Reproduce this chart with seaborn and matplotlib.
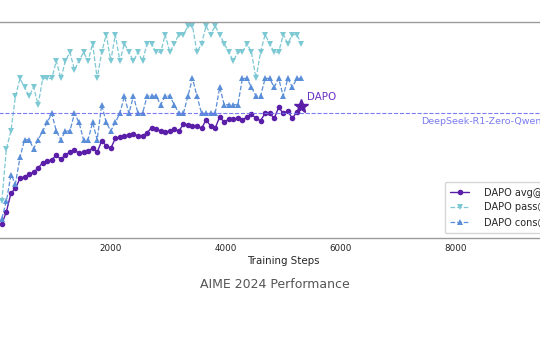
import matplotlib
matplotlib.use("Agg")
import matplotlib.pyplot as plt
import seaborn as sns

steps = [100, 179, 258, 337, 416, 495, 574, 653, 732, 811, 890, 969, 1048, 1127,
         1206, 1285, 1364, 1443, 1522, 1601, 1680, 1759, 1838, 1917, 1996, 2075,
         2154, 2233, 2312, 2391, 2470, 2549, 2628, 2707, 2786, 2865, 2944, 3023,
         3102, 3181, 3260, 3339, 3418, 3497, 3576, 3655, 3734, 3813, 3892, 3971,
         4050, 4129, 4208, 4287, 4366, 4445, 4524, 4603, 4682, 4761, 4840, 4919,
         4998, 5077, 5156, 5235, 5314]

avg32 = [4.6, 9.3, 16.3, 18.2, 22.0, 22.6, 23.5, 24.4, 25.9, 28.0, 28.6, 29.0,
         30.9, 29.2, 30.9, 32.0, 32.8, 31.5, 32.1, 32.5, 33.4, 31.9, 36.3, 34.4,
         33.4, 37.2, 37.6, 38.2, 38.5, 38.9, 38.1, 38.1, 39.4, 41.3, 40.8, 40.0,
         39.5, 40.1, 40.7, 40.0, 42.6, 42.3, 41.9, 41.9, 41.0, 44.2, 42.0, 41.0,
         45.5, 43.3, 44.6, 44.5, 45.0, 44.2, 45.3, 46.5, 44.8, 44.0, 46.7, 46.9,
         44.8, 49.0, 46.7, 47.7, 44.8, 47.3, 49.5]

pass32 = [13.3, 33.3, 40.0, 53.3, 60.0, 56.7, 53.3, 56.7, 50.0, 60.0, 60.0, 60.0,
          66.7, 60.0, 66.7, 70.0, 63.3, 66.7, 70.0, 66.7, 73.3, 60.0, 70.0, 76.7,
          66.7, 76.7, 66.7, 73.3, 70.0, 66.7, 70.0, 66.7, 73.3, 73.3, 70.0, 70.0,
          76.7, 70.0, 73.3, 76.7, 76.7, 80.0, 80.0, 70.0, 73.3, 80.0, 76.7, 80.0,
          76.7, 73.3, 70.0, 66.7, 70.0, 70.0, 73.3, 70.0, 60.0, 70.0, 76.7, 73.3,
          70.0, 70.0, 76.7, 73.3, 76.7, 76.7, 73.3]

cons32 = [6.7, 13.3, 23.3, 20.0, 30.0, 36.7, 36.7, 33.3, 36.7, 40.0, 43.3, 46.7,
          40.0, 36.7, 40.0, 40.0, 46.7, 43.3, 36.7, 36.7, 43.3, 36.7, 50.0, 43.3,
          40.0, 43.3, 46.7, 53.3, 46.7, 53.3, 46.7, 46.7, 53.3, 53.3, 53.3, 50.0,
          53.3, 53.3, 50.0, 46.7, 46.7, 53.3, 60.0, 53.3, 46.7, 46.7, 46.7, 46.7,
          56.7, 50.0, 50.0, 50.0, 50.0, 60.0, 60.0, 56.7, 53.3, 53.3, 60.0, 60.0,
          56.7, 60.0, 53.3, 60.0, 56.7, 60.0, 60.0]

baseline_value = 47
baseline_label = "DeepSeek-R1-Zero-Qwen-32B"
series_labels = ["DAPO avg@32", "DAPO pass@32", "DAPO cons@32"]
x_ticks = [2000, 4000, 6000, 8000]

sns.set_style("white")
plt.rcParams["font.family"] = ["DejaVu Sans"]

PURPLE = "#5a1ea8"
CYAN = "#7cc8d3"
BLUE = "#5b8ed8"
REF = "#6d6df2"

fig = plt.figure(figsize=(5.4, 3.4), dpi=100)
ax = fig.add_axes([-3.9 / 540, 102 / 340, 574.5 / 540, 216 / 340])

sns.lineplot(x=steps, y=avg32, ax=ax, color=PURPLE, marker="o", markersize=4,
             markeredgewidth=0, linewidth=1.0, label=series_labels[0],
             errorbar=None, sort=False)
sns.lineplot(x=steps, y=pass32, ax=ax, color=CYAN, marker="v", markersize=4.5,
             markeredgewidth=0, linewidth=0.9, linestyle="--",
             label=series_labels[1], errorbar=None, sort=False)
sns.lineplot(x=steps, y=cons32, ax=ax, color=BLUE, marker="^", markersize=4.5,
             markeredgewidth=0, linewidth=0.9, linestyle="--",
             label=series_labels[2], errorbar=None, sort=False)

ax.axhline(baseline_value, color=REF, linestyle="--", linewidth=0.8, alpha=0.9)
ax.text(7400, baseline_value - 3.4, baseline_label, color="#7b7bf0",
        fontsize=6.8, va="center", ha="left")

ax.plot([steps[-1]], [avg32[-1]], marker="*", markersize=10, color=PURPLE,
        linestyle="none", zorder=5)
ax.annotate("DAPO", (steps[-1], avg32[-1]), xytext=(4, 3),
            textcoords="offset points", color="#6a30c0", fontsize=7.4,
            va="bottom", ha="left")

ax.set_xlim(0, 10000)
ax.set_ylim(-0.7, 81.5)
ax.set_xticks(x_ticks)
ax.set_xticklabels([str(t) for t in x_ticks], fontsize=6.3, color="#222222")
ax.tick_params(axis="x", length=2.5, width=0.6, color="#888888", pad=2)
ax.set_yticks([])
ax.set_xlabel("Training Steps", fontsize=7.4, labelpad=2)
ax.set_ylabel("")

for side in ["top", "bottom", "left", "right"]:
    ax.spines[side].set_color("#9a9a9a")
    ax.spines[side].set_linewidth(1.0)

leg = ax.legend(loc="lower right", fontsize=7.0, frameon=True,
                handlelength=1.9, handletextpad=1.6, borderpad=0.6)
leg.get_frame().set_edgecolor("#cccccc")

fig.text(275 / 540, 1 - 285 / 340, "AIME 2024 Performance", fontsize=9,
         color="#555555", ha="center", va="center")

fig.savefig("out.png", dpi=100)
